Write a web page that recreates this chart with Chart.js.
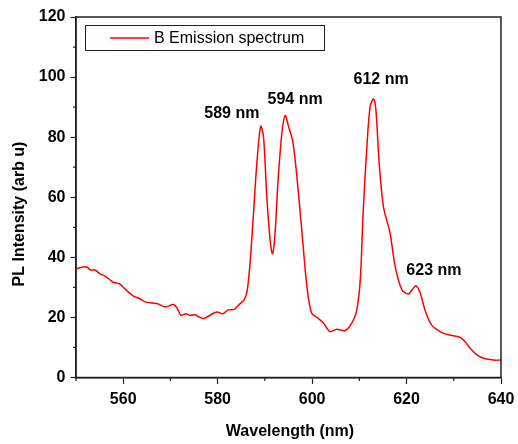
<!DOCTYPE html>
<html>
<head>
<meta charset="utf-8">
<script src="https://cdn.jsdelivr.net/npm/chart.js@4/dist/chart.umd.min.js"></script>
<style>
  html, body { margin: 0; padding: 0; background: #fff; }
  #wrap { width: 518px; height: 444px; position: relative; }
</style>
</head>
<body>
<div id="wrap"><canvas id="plChart" width="518" height="444"></canvas></div>
<script>
const SERIES_LABEL = 'B Emission spectrum';

const wavelength = [
    550.0, 552.1, 553.1, 554.0, 555.1, 556.1, 557.9, 559.2, 560.4, 562.1,
    563.4, 564.8, 567.1, 569.0, 570.6, 571.4, 572.2, 573.3, 574.1, 575.2,
    575.9, 577.0, 578.0, 579.8, 581.1, 582.2, 583.5, 584.7, 585.6, 586.2,
    586.8, 587.5, 588.3, 589.1, 589.7, 590.4, 591.1, 591.6, 592.1, 592.8,
    593.6, 594.3, 595.0, 595.9, 596.7, 597.8, 598.9, 599.9, 601.3, 602.4,
    603.8, 605.2, 607.0, 608.4, 609.4, 610.2, 610.8, 611.6, 612.3, 613.0,
    613.5, 614.2, 615.1, 616.5, 617.6, 619.0, 620.4, 621.4, 622.0, 622.9,
    623.9, 625.3, 627.1, 628.9, 631.3, 632.4, 633.5, 634.9, 636.3, 638.4,
    640.0,
];

const intensity = [
    36.2, 36.9, 35.8, 35.8, 34.5, 33.8, 31.7, 31.2, 29.4, 27.2,
    26.3, 25.1, 24.6, 23.5, 24.3, 23.1, 20.7, 21.2, 20.7, 20.9,
    20.3, 19.6, 20.4, 21.8, 21.2, 22.5, 22.7, 24.5, 25.8, 28.5,
    36.9, 52.5, 71.4, 83.6, 80.3, 60.3, 45.8, 41.2, 46.9, 65.8,
    81.4, 87.2, 83.6, 78.6, 68.1, 49.2, 30.3, 21.4, 19.7, 18.1,
    15.3, 16.1, 15.6, 18.1, 22.0, 32.5, 54.7, 76.9, 90.3, 92.7,
    89.2, 71.4, 56.9, 48.1, 36.9, 29.2, 27.8, 29.7, 30.5, 28.1,
    22.5, 17.5, 15.3, 14.2, 13.4, 11.9, 9.7, 7.5, 6.4, 5.8,
    5.8,
];

const xMajorTicks = [560, 580, 600, 620, 640];
const xMinorTicks = [550, 570, 590, 610, 630];
const yMajorTicks = [0, 20, 40, 60, 80, 100, 120];
const yMinorTicks = [10, 30, 50, 70, 90, 110];

const peakLabels  = ['589 nm', '594 nm', '612 nm', '623 nm'];
const peakLabelX  = [583.0, 596.4, 614.6, 625.8];
const peakLabelY  = [87.8, 92.5, 99.0, 35.7];

const FONT = '"Liberation Sans", Arial, sans-serif';
const LINE_RED = '#ff0000';
const AXIS_COL = '#222';

// frame, minor ticks, titles, legend and peak notes
const decorPlugin = {
    id: 'decor',
    afterDraw(chart) {
        const { ctx, chartArea: a, scales: { x, y } } = chart;
        ctx.save();

        ctx.strokeStyle = AXIS_COL;
        ctx.lineWidth = 1.5;
        ctx.strokeRect(a.left, a.top, a.right - a.left, a.bottom - a.top);

        ctx.lineWidth = 1.2;
        ctx.beginPath();
        xMinorTicks.forEach(v => {
            const px = x.getPixelForValue(v);
            ctx.moveTo(px, a.bottom);
            ctx.lineTo(px, a.bottom + 3.5);
        });
        yMinorTicks.forEach(v => {
            const py = y.getPixelForValue(v);
            ctx.moveTo(a.left, py);
            ctx.lineTo(a.left - 3, py);
        });
        ctx.stroke();

        ctx.fillStyle = '#000';
        ctx.font = `bold 16px ${FONT}`;
        ctx.textAlign = 'center';
        ctx.textBaseline = 'middle';
        ctx.fillText('Wavelength (nm)', 290, 432);

        ctx.save();
        ctx.translate(19.5, 214);
        ctx.rotate(-Math.PI / 2);
        ctx.fillText('PL Intensity (arb u)', 0, 0);
        ctx.restore();

        peakLabels.forEach((t, i) => {
            ctx.fillText(t, x.getPixelForValue(peakLabelX[i]), y.getPixelForValue(peakLabelY[i]));
        });

        // legend box
        ctx.strokeStyle = AXIS_COL;
        ctx.lineWidth = 1;
        ctx.strokeRect(85.5, 25.5, 239, 25);
        ctx.strokeStyle = LINE_RED;
        ctx.lineWidth = 1.5;
        ctx.beginPath();
        ctx.moveTo(110, 38);
        ctx.lineTo(149, 38);
        ctx.stroke();
        ctx.font = `16px ${FONT}`;
        ctx.textAlign = 'left';
        ctx.fillStyle = '#000';
        ctx.fillText(SERIES_LABEL, 154, 38.5);

        ctx.restore();
    },
};

new Chart(document.getElementById('plChart'), {
    type: 'scatter',
    data: {
        datasets: [{
            label: SERIES_LABEL,
            data: wavelength.map((w, i) => ({ x: w, y: intensity[i] })),
            showLine: true,
            borderColor: LINE_RED,
            borderWidth: 1.5,
            pointRadius: 0,
            tension: 0.3,
            fill: false,
        }],
    },
    options: {
        responsive: false,
        animation: false,
        devicePixelRatio: 1,
        layout: { padding: { top: 17, right: 17, left: 0, bottom: 0 } },
        plugins: {
            legend: { display: false },
            tooltip: { enabled: false },
        },
        scales: {
            x: {
                type: 'linear',
                min: 550,
                max: 640,
                afterBuildTicks: s => { s.ticks = xMajorTicks.map(v => ({ value: v })); },
                afterFit: s => { s.height = 66.5; s.paddingLeft = 0; s.paddingRight = 0; },
                grid: { drawOnChartArea: false, tickLength: 6.5, tickColor: AXIS_COL, tickWidth: 1.2 },
                border: { color: AXIS_COL, width: 1.5 },
                ticks: {
                    padding: 6,
                    color: '#000',
                    maxRotation: 0,
                    font: { family: FONT, size: 16, weight: 'bold' },
                },
            },
            y: {
                type: 'linear',
                min: 0,
                max: 120,
                afterBuildTicks: s => { s.ticks = yMajorTicks.map(v => ({ value: v })); },
                afterFit: s => { s.width = 76; s.paddingTop = 0; s.paddingBottom = 0; },
                grid: { drawOnChartArea: false, tickLength: 5.5, tickColor: AXIS_COL, tickWidth: 1.2 },
                border: { color: AXIS_COL, width: 1.5 },
                ticks: {
                    padding: 5,
                    color: '#000',
                    font: { family: FONT, size: 16, weight: 'bold' },
                },
            },
        },
    },
    plugins: [decorPlugin],
});
</script>
</body>
</html>
